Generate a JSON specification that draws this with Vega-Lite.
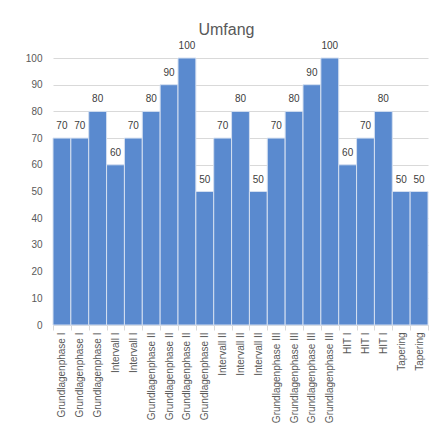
{
  "$schema": "https://vega.github.io/schema/vega-lite/v6.json",
  "autosize": {"type": "none"},
  "width": 375,
  "height": 267,
  "padding": {"left": 53, "top": 58, "right": 9, "bottom": 111},
  "background": "white",
  "title": {"text": "Umfang", "fontSize": 16, "font": "Liberation Sans", "fontWeight": "normal", "color": "#595959", "offset": 3, "dx": -14},
  "data": {"values": [
    {"slot": "01 Grundlagenphase I", "umfang": 70},
    {"slot": "02 Grundlagenphase I", "umfang": 70},
    {"slot": "03 Grundlagenphase I", "umfang": 80},
    {"slot": "04 Intervall I", "umfang": 60},
    {"slot": "05 Intervall I", "umfang": 70},
    {"slot": "06 Grundlagenphase II", "umfang": 80},
    {"slot": "07 Grundlagenphase II", "umfang": 90},
    {"slot": "08 Grundlagenphase II", "umfang": 100},
    {"slot": "09 Grundlagenphase II", "umfang": 50},
    {"slot": "10 Intervall II", "umfang": 70},
    {"slot": "11 Intervall II", "umfang": 80},
    {"slot": "12 Intervall II", "umfang": 50},
    {"slot": "13 Grundlagenphase III", "umfang": 70},
    {"slot": "14 Grundlagenphase III", "umfang": 80},
    {"slot": "15 Grundlagenphase III", "umfang": 90},
    {"slot": "16 Grundlagenphase III", "umfang": 100},
    {"slot": "17 HIT I", "umfang": 60},
    {"slot": "18 HIT I", "umfang": 70},
    {"slot": "19 HIT I", "umfang": 80},
    {"slot": "20 Tapering", "umfang": 50},
    {"slot": "21 Tapering", "umfang": 50}
  ]},
  "config": {
    "font": "Liberation Sans",
    "view": {"stroke": null},
    "axis": {"labelFont": "Liberation Sans", "labelColor": "#595959", "labelFontSize": 10, "domainColor": "#d9d9d9", "tickColor": "#d9d9d9", "gridColor": "#d9d9d9"}
  },
  "encoding": {
    "x": {"field": "slot", "type": "nominal", "sort": null,
      "scale": {"paddingInner": 0, "paddingOuter": 0},
      "axis": {"title": null, "labelAngle": -90, "labelExpr": "substring(datum.label, 3)", "tickBand": "extent", "tickSize": 5, "labelPadding": 2, "labelAlign": "right", "labelBaseline": "middle"}},
    "y": {"field": "umfang", "type": "quantitative",
      "scale": {"domain": [0, 100]},
      "axis": {"title": null, "values": [0,10,20,30,40,50,60,70,80,90,100], "ticks": false, "domain": false, "labelPadding": 11}}
  },
  "layer": [
    {"mark": {"type": "bar", "color": "#5A8ACF", "stroke": "#d4dff0", "strokeWidth": 1}},
    {"mark": {"type": "text", "dy": -12, "fontSize": 10, "color": "#404040", "font": "Liberation Sans"},
     "encoding": {"text": {"field": "umfang", "type": "quantitative"}}}
  ]
}
